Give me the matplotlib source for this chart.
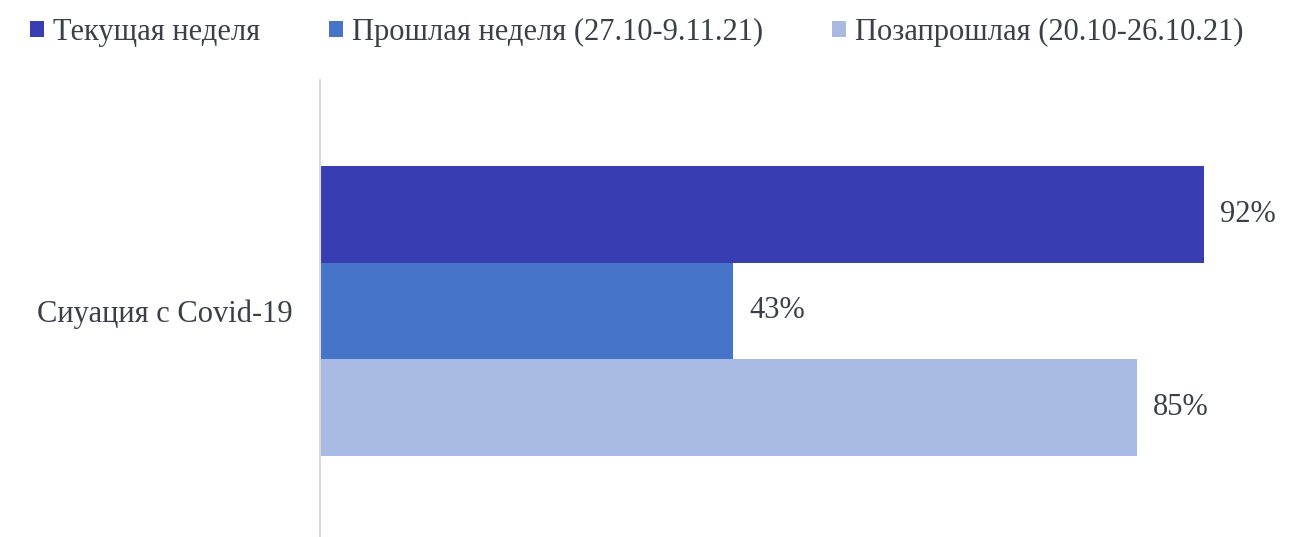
import numpy as np
import matplotlib.pyplot as plt

category = 'Сиуация с Covid-19'
series = ['Текущая неделя', 'Прошлая неделя (27.10-9.11.21)', 'Позапрошлая (20.10-26.10.21)']
values = [92, 43, 85]
colors = ['#383EB2', '#4674C8', '#A8BAE3']

plt.rcParams['font.family'] = ['Liberation Serif', 'DejaVu Serif']
txt = '#3a3f48'

fig = plt.figure(figsize=(13.03, 5.37), dpi=100)
ax = fig.add_axes([320/1303, 0.0, 961/1303, 457/537])

pos = np.array([-1, 0, 1])
for p, v, c, s in zip(pos, values, colors, series):
    ax.barh(p, v, height=1.0, color=c, label=s)
    ax.text(v + 1.65, p, '%d%%' % v, va='center', ha='left', fontsize=22, color=txt)

ax.set_xlim(0, 100)
ax.set_ylim(2.34, -2.39)
ax.set_yticks([0])
ax.set_yticklabels([category], fontsize=22, color=txt)
ax.tick_params(axis='y', length=0, pad=19.5)
ax.set_xticks([])
for side in ['top', 'right', 'bottom']:
    ax.spines[side].set_visible(False)
ax.spines['left'].set_color('#d9d9d9')
ax.spines['left'].set_linewidth(1.5)

fig.legend(loc='upper left', bbox_to_anchor=(0.014, 0.99), ncol=3, frameon=False,
           fontsize=22, handlelength=0.45, handleheight=0.45, handletextpad=0.3,
           columnspacing=2.25, labelcolor=txt, borderaxespad=0)

fig.savefig('out.png', dpi=100)
